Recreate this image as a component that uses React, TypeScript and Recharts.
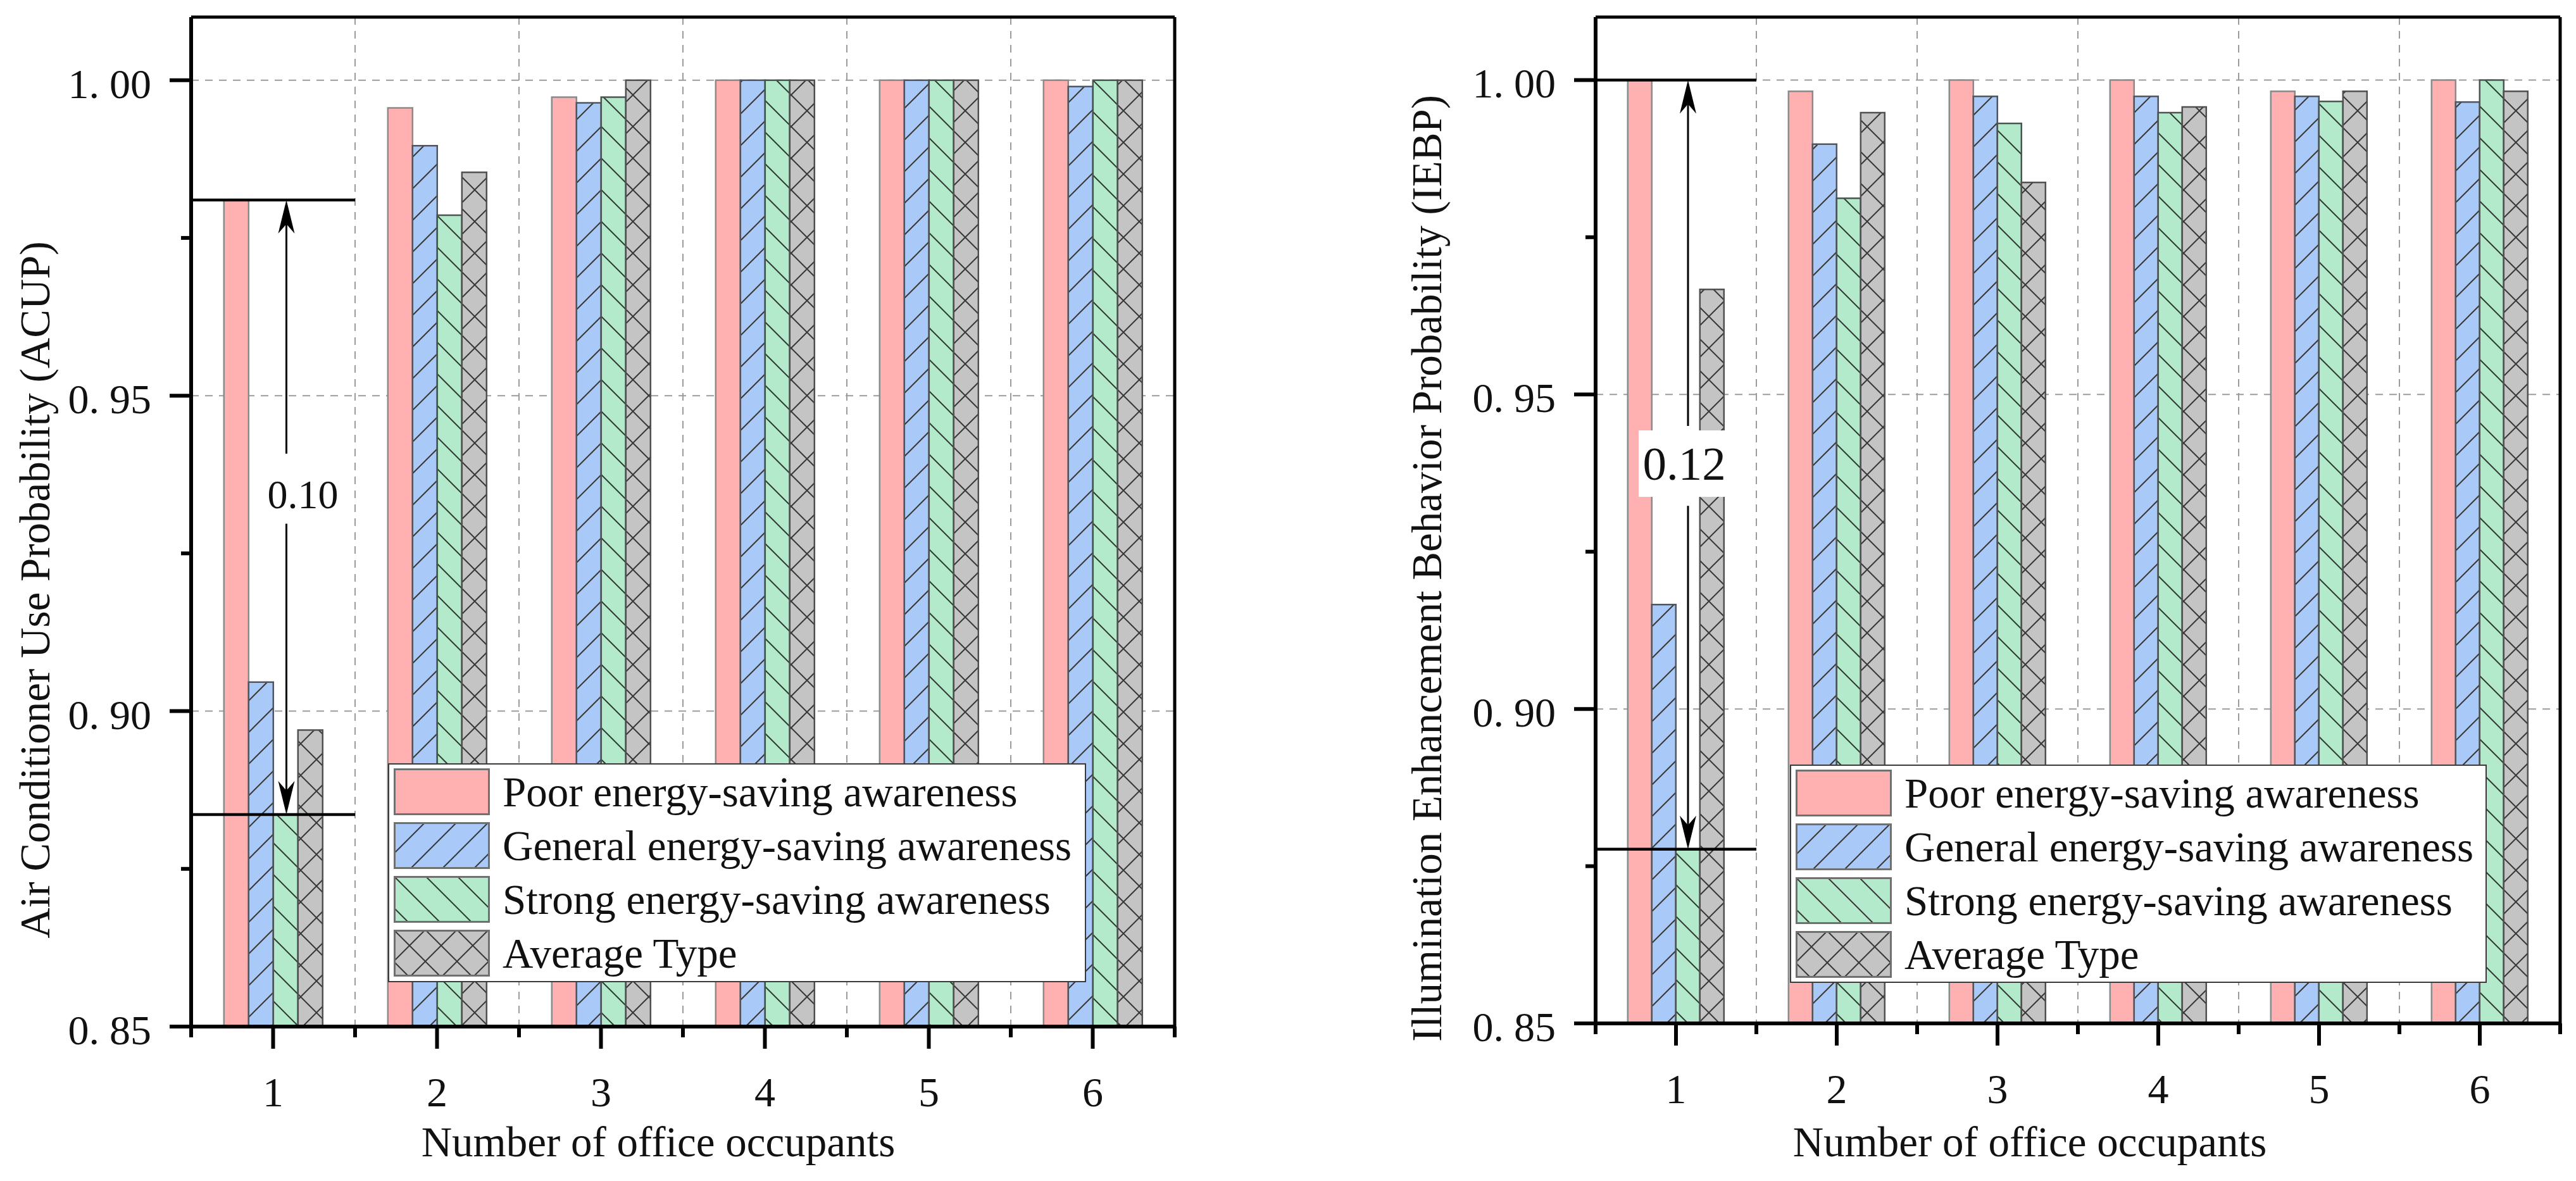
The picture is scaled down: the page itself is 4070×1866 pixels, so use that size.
import React from 'react';
import {
    BarChart, Bar, XAxis, YAxis, CartesianGrid, Legend, ReferenceLine, ReferenceDot
} from 'recharts';

const categories = ['1', '2', '3', '4', '5', '6'];
const seriesNames = [
    'Poor energy-saving awareness',
    'General energy-saving awareness',
    'Strong energy-saving awareness',
    'Average Type',
];

// Air Conditioner Use Probability (ACUP)
const acupPoor = [0.981, 0.9956, 0.9973, 1.0, 1.0, 1.0];
const acupGeneral = [0.9046, 0.9896, 0.9964, 1.0, 1.0, 0.999];
const acupStrong = [0.8836, 0.9786, 0.9973, 1.0, 1.0, 1.0];
const acupAverage = [0.897, 0.9854, 1.0, 1.0, 1.0, 1.0];

// Illumination Enhancement Behavior Probability (IEBP)
const iebpPoor = [1.0, 0.9982, 1.0, 1.0, 0.9982, 1.0];
const iebpGeneral = [0.9166, 0.9898, 0.9974, 0.9974, 0.9974, 0.9965];
const iebpStrong = [0.8777, 0.9812, 0.9931, 0.9948, 0.9966, 1.0];
const iebpAverage = [0.9667, 0.9948, 0.9837, 0.9957, 0.9982, 0.9982];

const yTicks = [0.85, 0.875, 0.9, 0.925, 0.95, 0.975, 1.0];
const yGridValues = [0.9, 0.95, 1.0];
const Y_MIN = 0.85;
const Y_MAX = 1.01;

const FONT = '"Liberation Serif", "Times New Roman", serif';
const PINK = '#FFB0B0';
const BLUE = '#A9C9F8';
const GREEN = '#B2EACB';
const GRAY = '#C4C4C4';
const HATCH = '#383838';

const Y_TICK_LEN = 34;
const Y_TICK_GAP = 29;
const X_TICK_LEN = 35;

function YTick(props: any) {
    const { x, y, payload } = props;
    const ax = x + Y_TICK_LEN + Y_TICK_GAP;
    const v = payload.value as number;
    const minor = Math.round(v * 1000) % 50 !== 0;
    if (minor) {
        return <line x1={ax - 16} x2={ax} y1={y} y2={y} stroke="#000" strokeWidth={6} />;
    }
    const [a, b] = v.toFixed(2).split('.');
    return (
        <g>
            <line x1={ax - Y_TICK_LEN} x2={ax} y1={y} y2={y} stroke="#000" strokeWidth={6} />
            <text x={x} y={y + 28} textAnchor="end" fontFamily={FONT} fontSize={66} fill="#111">
                {a}.<tspan dx={16}>{b}</tspan>
            </text>
        </g>
    );
}

function makeXTick(band: number) {
    return (props: any) => {
        const { x, y, payload, index } = props;
        const ay = y - X_TICK_LEN;
        const last = index === categories.length - 1;
        return (
            <g>
                <line x1={x} x2={x} y1={ay} y2={ay + X_TICK_LEN} stroke="#000" strokeWidth={6} />
                <line x1={x - band / 2} x2={x - band / 2} y1={ay} y2={ay + 17} stroke="#000" strokeWidth={6} />
                {last && <line x1={x + band / 2} x2={x + band / 2} y1={ay} y2={ay + 17} stroke="#000" strokeWidth={6} />}
                <text x={x} y={ay + 126} textAnchor="middle" fontFamily={FONT} fontSize={66} fill="#111">{payload.value}</text>
            </g>
        );
    };
}

// vertical double-arrow half, shifted dx px right of the band centre
function makeArrow(dx: number) {
    return (props: any) => {
        const { y1, y2 } = props;
        const x = props.x1 + dx;
        const dir = y2 > y1 ? 1 : -1;
        const L = 53, W = 13, N = 38;
        return (
            <g>
                <line x1={x} y1={y1} x2={x} y2={y2 - dir * N} stroke="#000" strokeWidth={3} />
                <path d={`M${x},${y2} L${x - W},${y2 - dir * L} L${x},${y2 - dir * N} L${x + W},${y2 - dir * L} Z`} fill="#000" />
            </g>
        );
    };
}

function LegendBox({ payload, fills, width, height }: any) {
    return (
        <div style={{
            width, height, boxSizing: 'border-box', border: '2.5px solid #3a3a3a',
            background: '#fff', position: 'relative', fontFamily: FONT,
        }}>
            {seriesNames.map((name, i) => {
                const entry = (payload || []).find((p: any) => p.value === name);
                const fill = entry && typeof entry.color === 'string' && entry.color.startsWith('url') ? entry.color : fills[i];
                return (
                    <div key={name} style={{ position: 'absolute', left: 7, top: 6 + i * 85, height: 74, display: 'flex', alignItems: 'center' }}>
                        <svg width={152} height={74} style={{ display: 'block' }}>
                            <rect x={1.5} y={1.5} width={149} height={71} fill={fill} stroke="#707070" strokeWidth={3} />
                        </svg>
                        <span style={{ marginLeft: 20, fontSize: 67, lineHeight: '74px', color: '#111', whiteSpace: 'nowrap' }}>{name}</span>
                    </div>
                );
            })}
        </div>
    );
}

function ChartPanel({ cfg }: any) {
    const data = categories.map((c, i) => ({
        occupants: c,
        poor: cfg.poor[i],
        general: cfg.general[i],
        strong: cfg.strong[i],
        average: cfg.average[i],
    }));
    const plotLeft = cfg.margin.left + cfg.yAxisWidth;
    const plotRight = cfg.width - cfg.margin.right;
    const band = (plotRight - plotLeft) / categories.length;
    const id = cfg.id;
    const fills = [PINK, `url(#${id}-up)`, `url(#${id}-down)`, `url(#${id}-cross)`];
    const keys = ['poor', 'general', 'strong', 'average'];
    const strokes = ['#8a8a8a', '#4f5660', '#4a5550', '#505050'];
    const a = cfg.annot;
    const first = categories[0];
    const last = categories[categories.length - 1];

    return (
        <div style={{ position: 'absolute', left: cfg.left, top: 0, width: cfg.width, height: cfg.height }}>
            <BarChart width={cfg.width} height={cfg.height} data={data} margin={cfg.margin}
                barCategoryGap="20%" barGap={0}>
                <defs>
                    <pattern id={`${id}-up`} width={50} height={50} patternUnits="userSpaceOnUse">
                        <rect width={50} height={50} fill={BLUE} />
                        <path d="M-10,10 L10,-10 M0,50 L50,0 M40,60 L60,40" stroke={HATCH} strokeWidth={2} />
                    </pattern>
                    <pattern id={`${id}-down`} width={50} height={50} patternUnits="userSpaceOnUse">
                        <rect width={50} height={50} fill={GREEN} />
                        <path d="M-10,40 L10,60 M0,0 L50,50 M40,-10 L60,10" stroke={HATCH} strokeWidth={2} />
                    </pattern>
                    <pattern id={`${id}-cross`} width={50} height={50} patternUnits="userSpaceOnUse">
                        <rect width={50} height={50} fill={GRAY} />
                        <path d="M-10,10 L10,-10 M0,50 L50,0 M40,60 L60,40 M-10,40 L10,60 M0,0 L50,50 M40,-10 L60,10" stroke={HATCH} strokeWidth={2} />
                    </pattern>
                </defs>
                <CartesianGrid stroke="#9c9c9c" strokeWidth={2} strokeDasharray="12 10"
                    horizontalValues={yGridValues}
                    verticalCoordinatesGenerator={(args: any) => {
                        const o = args && args.offset ? args.offset : { left: plotLeft, width: plotRight - plotLeft };
                        return categories.slice(1).map((_, k) => o.left + (o.width * (k + 1)) / categories.length);
                    }} />
                <XAxis dataKey="occupants" interval={0} height={cfg.xAxisHeight}
                    axisLine={{ stroke: '#000', strokeWidth: 6 }} tickLine={false}
                    tickSize={X_TICK_LEN} tickMargin={0} tick={makeXTick(band)}
                    label={() => (
                        <text x={cfg.xTitleX} y={1827} textAnchor="middle" fontFamily={FONT} fontSize={67} fill="#111">
                            Number of office occupants
                        </text>
                    )} />
                <YAxis type="number" domain={[Y_MIN, Y_MAX]} allowDataOverflow ticks={yTicks} interval={0}
                    width={cfg.yAxisWidth} axisLine={{ stroke: '#000', strokeWidth: 6 }} tickLine={false}
                    tickSize={Y_TICK_LEN} tickMargin={Y_TICK_GAP} tick={YTick}
                    label={() => (
                        <text x={cfg.yTitleX} y={cfg.yTitleY} transform={`rotate(-90 ${cfg.yTitleX} ${cfg.yTitleY})`}
                            textAnchor="middle" fontFamily={FONT} fontSize={67} fill="#111">
                            {cfg.yTitle}
                        </text>
                    )} />

                {keys.map((k, i) => (
                    <Bar key={k} dataKey={k} name={seriesNames[i]} fill={fills[i]} stroke={strokes[i]}
                        strokeWidth={2.5} isAnimationActive={false} />
                ))}

                {/* frame: top and right */}
                <ReferenceLine y={Y_MAX} stroke="#000" strokeWidth={5} />
                <ReferenceLine x={last} position="end" stroke="#000" strokeWidth={5} />

                {/* difference annotation for one occupant */}
                <ReferenceLine position="start" stroke="#000" strokeWidth={4.5}
                    segment={[{ x: first, y: cfg.poor[0] }, { x: categories[1], y: cfg.poor[0] }]} />
                <ReferenceLine position="start" stroke="#000" strokeWidth={4.5}
                    segment={[{ x: first, y: cfg.strong[0] }, { x: categories[1], y: cfg.strong[0] }]} />
                <ReferenceLine shape={makeArrow(a.arrowDx)}
                    segment={[{ x: first, y: a.upperStart }, { x: first, y: cfg.poor[0] }]} />
                <ReferenceLine shape={makeArrow(a.arrowDx)}
                    segment={[{ x: first, y: a.lowerStart }, { x: first, y: cfg.strong[0] }]} />
                <ReferenceDot x={first} y={a.labelY} r={0}
                    shape={(p: any) => (
                        <g>
                            {a.box && <rect x={p.cx + a.labelDx - a.box[0] / 2} y={p.cy - a.box[1] / 2} width={a.box[0]} height={a.box[1]} fill="#fff" />}
                            <text x={p.cx + a.labelDx} y={p.cy + a.fontSize * 0.34} textAnchor="middle" fontFamily={FONT} fontSize={a.fontSize} fill="#111">
                                {a.text}
                            </text>
                        </g>
                    )} />

                <Legend layout="vertical" align="center" verticalAlign="middle"
                    wrapperStyle={{ left: cfg.legend.left, top: cfg.legend.top, width: cfg.legend.width, height: cfg.legend.height }}
                    content={(props: any) => (
                        <LegendBox payload={props.payload} fills={fills} width={cfg.legend.width} height={cfg.legend.height} />
                    )} />
            </BarChart>
        </div>
    );
}

const leftCfg = {
    id: 'ac',
    left: 0,
    width: 1900,
    height: 1866,
    margin: { top: 27, right: 44, left: 2, bottom: 0 },
    yAxisWidth: 300,
    xAxisHeight: 244,
    poor: acupPoor,
    general: acupGeneral,
    strong: acupStrong,
    average: acupAverage,
    yTitle: 'Air Conditioner Use Probability (ACUP)',
    yTitleX: 78,
    yTitleY: 932,
    xTitleX: 1040,
    legend: { left: 613, top: 1206, width: 1103, height: 346 },
    annot: { arrowDx: 21, upperStart: 0.9408, lowerStart: 0.9297, labelDx: 47, labelY: 0.9343, text: '0.10', fontSize: 64, box: null },
};

const rightCfg = {
    id: 'ie',
    left: 2200,
    width: 1870,
    height: 1866,
    margin: { top: 27, right: 25, left: 2, bottom: 0 },
    yAxisWidth: 319,
    xAxisHeight: 249,
    poor: iebpPoor,
    general: iebpGeneral,
    strong: iebpStrong,
    average: iebpAverage,
    yTitle: 'Illumination Enhancement Behavior Probability (IEBP)',
    yTitleX: 77,
    yTitleY: 898,
    xTitleX: 1007,
    legend: { left: 628, top: 1208, width: 1101, height: 345 },
    annot: { arrowDx: 19, upperStart: 0.945, lowerStart: 0.9323, labelDx: 13, labelY: 0.939, text: '0.12', fontSize: 75, box: [144, 105] },
};

export default function App() {
    return (
        <div style={{ position: 'absolute', left: 0, top: 0, width: 4070, height: 1866, background: '#fff', overflow: 'hidden' }}>
            <ChartPanel cfg={leftCfg} />
            <ChartPanel cfg={rightCfg} />
        </div>
    );
}
